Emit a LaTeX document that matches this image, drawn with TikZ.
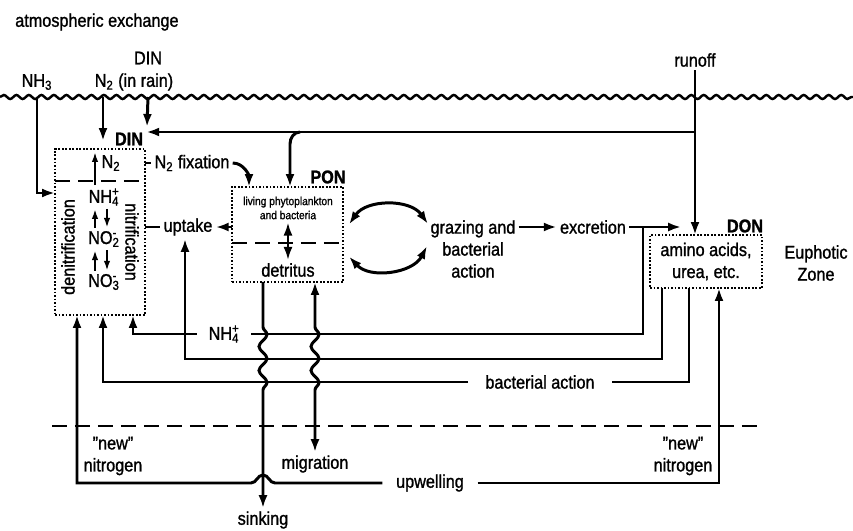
\documentclass[tikz,border=0pt]{standalone}
\usepackage{fontspec}
\setmainfont[FakeStretch=0.88, FakeBold=1.2]{Liberation Sans}
\usepackage{tikz}
\usetikzlibrary{arrows.meta, positioning, calc, decorations.pathmorphing}

\begin{document}
\begin{tikzpicture}[x=0.02cm, y=0.02cm, line width=1.7pt,
    flow/.style={-{Latex[length=2.6mm,width=1.8mm]}},
    both/.style={{Latex[length=2.6mm,width=1.8mm]}-{Latex[length=2.6mm,width=1.8mm]}},
    small/.style={-{Latex[length=2mm,width=1.3mm]}, line width=1.3pt},
    pool/.style={draw, densely dotted, line width=1pt, rectangle, inner sep=0pt, outer sep=0pt},
    txt/.style={font=\fontsize{10.5}{12.5}\selectfont, inner sep=1pt, align=center},
    tag/.style={font=\bfseries\fontsize{10.5}{12.5}\selectfont, inner sep=1pt},
    zone/.style={dash pattern=on 0.3cm off 0.16cm, line width=1.5pt},
    snk/.style={decoration={snake, amplitude=0.08cm, segment length=0.48cm}}]
    \useasboundingbox (0,0) rectangle (853,-531);

    % atmosphere and sea surface
    \node[txt, anchor=west] (atmo) at (12,-22) {atmospheric exchange};
    \node[txt] (nh3) at (37,-82) {NH\textsubscript{3}};
    \node[txt] (rainN2) at (134,-82) {N\textsubscript{2} (in rain)};
    \node[txt] (rainDIN) at (148,-58) {DIN};
    \node[txt] (runoff) at (695,-60) {runoff};
    \draw[decorate, decoration={snake, amplitude=0.04cm, segment length=0.25cm}, line width=1.4pt] (0,-97) -- (853,-97);
    \coordinate (surf) at (0,-97);

    % pools
    \node[pool, minimum width=1.8cm, minimum height=3.32cm] (dinbox) at (100,-232) {};
    \node[pool, minimum width=2.22cm, minimum height=1.9cm] (ponbox) at (287.5,-234.5) {};
    \node[pool, minimum width=2.24cm, minimum height=1.06cm, txt] (donbox) at (706,-261.5) {amino acids,\\urea, etc.};
    \node[tag] (dinlbl) at (129,-139) {DIN};
    \node[tag] (ponlbl) at (328,-177) {PON};
    \node[tag] (donlbl) at (745,-226) {DON};

    % inside DIN
    \draw[zone] (dinbox.west |- 0,-181) -- (dinbox.east |- 0,-181);
    \node[txt] (n2in) at (111,-163) {N\textsubscript{2}};
    \node[txt] (nh4in) at (104,-197) {NH\rlap{\textsuperscript{+}}\textsubscript{4}};
    \node[txt] (no2in) at (104,-239) {NO\rlap{\textsuperscript{-}}\textsubscript{2}};
    \node[txt] (no3in) at (104,-282) {NO\rlap{\textsuperscript{-}}\textsubscript{3}};
    \node[txt, rotate=90] (denit) at (68,-247) {denitrification};
    \node[txt, rotate=-90] (nitr) at (132,-242) {nitrification};
    \draw[small] (95,0 |- nh4in.north) -- (95,0 |- n2in.north);
    \draw[small] (95,0 |- no2in.north) -- (95,0 |- nh4in.south);
    \draw[small] (95,0 |- no3in.north) -- (95,0 |- no2in.south);
    \draw[small] (107,0 |- nh4in.south) -- (107,0 |- no2in.north);
    \draw[small] (107,0 |- no2in.south) -- (107,0 |- no3in.north);

    % inside PON
    \draw[zone] (ponbox.west |- 0,-243) -- (ponbox.east |- 0,-243);
    \node[font=\fontsize{6.6}{8}\selectfont, align=center, inner sep=1pt] (living) at (288,-208) {living phytoplankton\\and bacteria};
    \node[txt] (detritus) at (288,-270) {detritus};
    \draw[both, line width=1.3pt] (living.south) -- (detritus.north);

    % labels on the flows
    \node[txt] (fix) at (192,-163) {N\textsubscript{2} fixation};
    \node[txt] (uptake) at (188,-227) {uptake};
    \node[txt] (grazing) at (473,-249) {grazing and\\bacterial\\action};
    \node[txt] (excr) at (593,-227) {excretion};
    \node[txt, inner xsep=6pt] (nh4) at (224,-334) {NH\rlap{\textsuperscript{+}}\textsubscript{4}};
    \node[txt, inner xsep=9pt] (bact) at (540,-382) {bacterial action};
    \node[txt, inner xsep=7pt] (upw) at (430,-483) {upwelling};
    \node[txt] (sink) at (263,-520) {sinking};
    \node[txt] (migr) at (315,-464) {migration};
    \node[txt] (newL) at (113,-456) {\char34 new\char34\\nitrogen};
    \node[txt] (newR) at (683,-456) {\char34 new\char34\\nitrogen};
    \node[txt] (euph) at (816,-263) {Euphotic\\Zone};

    % euphotic zone bottom
    \draw[zone] (52,-426) -- (762,-426);

    % inputs from above
    \coordinate (rainfoot) at (103,-141);
    \draw[flow] (nh3.south |- surf) |- (dinbox.west |- 0,-193);
    \draw[flow] (103,0 |- surf) -- (rainfoot);
    \draw[flow] (rainDIN.south |- surf) -- (147,-127);
    \draw[flow] (runoff.south) -- (runoff.south |- donbox.north);
    \draw[flow] (695,-132) -- (dinlbl.east |- 0,-132);
    \draw[flow] (300,-132) to[out=180,in=90] (290,-144) -- (290,0 |- ponbox.north);

    % DIN <-> PON
    \draw (dinbox.east |- fix) -- (fix.west);
    \draw[flow] (fix.east) to[out=0,in=90] (249,0 |- ponbox.north);
    \draw (dinbox.east |- uptake) -- (uptake.west);
    \draw[flow] (ponbox.west |- uptake) -- (uptake.east);

    % PON <-> grazing, excretion to DON
    \draw[both] ($(ponbox.east)+(6,10)$) to[bend left=55] (428,-224);
    \draw[both] ($(ponbox.east)+(6,-22)$) to[bend right=55] (427,-246);
    \draw[flow] (grazing.east |- excr) -- (excr.west);
    \draw[flow] (excr.east) -- ++(52,0);

    % return flows
    \draw (643,0 |- excr) |- (nh4.east);
    \draw[flow] (nh4.west) -| (133,0 |- dinbox.south);
    \draw[flow] (662,0 |- donbox.south) |- (185,-359) -- (185,0 |- uptake.south);
    \draw (689,0 |- donbox.south) |- (bact.east);
    \draw[flow] (bact.west) -| (103,0 |- dinbox.south);
    \draw[flow] (upw.east) -| (719,0 |- donbox.south);
    \draw[flow] (upw.west) -- (275,-483) to[out=180,in=0] (263,-475) to[out=180,in=0] (251,-483) -| (77,0 |- dinbox.south);

    % losses to depth
    \draw[flow] (263,0 |- ponbox.south) -- (263,-327) decorate[snk]{-- (263,-399)} -- (sink.north);
    \draw[both] (315,0 |- ponbox.south) -- (315,-327) decorate[snk]{-- (315,-399)} -- (migr.north);
\end{tikzpicture}
\end{document}
